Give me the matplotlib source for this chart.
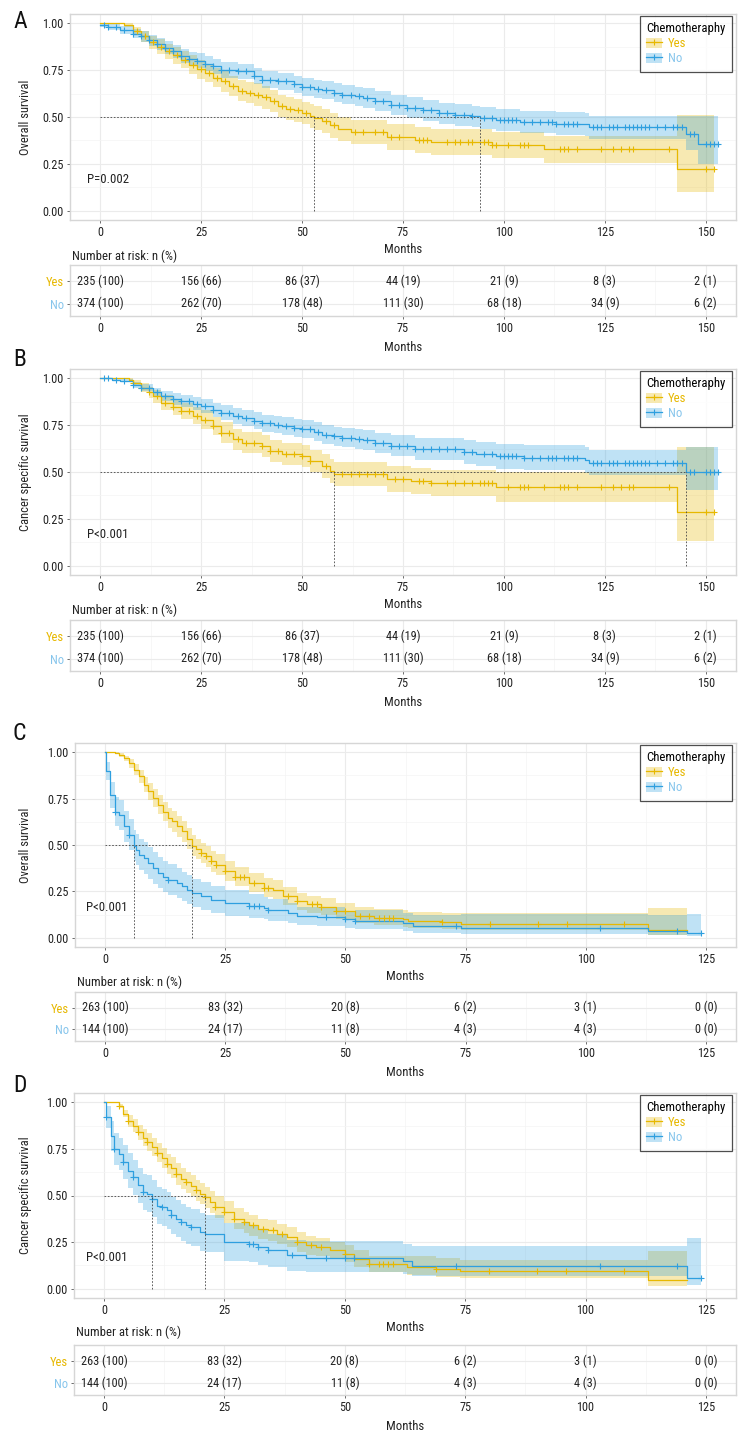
import numpy as np
import matplotlib
matplotlib.use("Agg")
import matplotlib.pyplot as plt
from matplotlib import font_manager as fm
from matplotlib.patches import Patch
from matplotlib.lines import Line2D

_names = {f.name for f in fm.fontManager.ttflist}
FONT = 'DejaVu Sans'
for cand in ['Liberation Sans Narrow', 'Roboto Condensed', 'Open Sans Condensed', 'DejaVu Sans']:
    if cand in _names:
        FONT = cand
        break
plt.rcParams['font.family'] = [FONT, 'DejaVu Sans']

# ---------------- DATA ----------------
groups = ['Yes', 'No']
legend_title = 'Chemotheraphy'
panel_letters = ['A', 'B', 'C', 'D']
y_titles = ['Overall survival', 'Cancer specific survival', 'Overall survival', 'Cancer specific survival']
p_texts = ['P=0.002', 'P<0.001', 'P<0.001', 'P<0.001']

# Panel A (overall survival, cohort 1)
A_yes_t = [0,6,8,10,12,14,16,18,20,22,24,26,28,30,32,34,36,38,40,42,44,46,48,50,52,53,55,57,59,62,71,78,82,97,110,143]
A_yes_s = [1.00,0.99,0.96,0.93,0.90,0.875,0.85,0.83,0.805,0.78,0.755,0.735,0.71,0.69,0.665,0.64,0.63,0.62,0.605,0.585,0.56,0.545,0.535,0.52,0.505,0.495,0.478,0.455,0.435,0.42,0.395,0.377,0.366,0.35,0.327,0.221]
A_yes_lo = [1.00,0.98,0.94,0.90,0.865,0.835,0.81,0.785,0.76,0.73,0.705,0.685,0.66,0.635,0.61,0.585,0.575,0.56,0.545,0.525,0.50,0.485,0.475,0.46,0.44,0.43,0.413,0.39,0.37,0.355,0.325,0.307,0.296,0.28,0.257,0.10]
A_yes_hi = [1.00,1.00,0.98,0.96,0.935,0.915,0.89,0.875,0.85,0.83,0.805,0.785,0.76,0.745,0.72,0.695,0.685,0.68,0.665,0.645,0.62,0.605,0.595,0.58,0.57,0.56,0.543,0.52,0.50,0.485,0.465,0.447,0.436,0.42,0.397,0.51]
A_yes_end = 152
A_yes_cens = [9,11,13,15,17,19,21,23,25,27,29,31,33,35,37,39,41,43,45,47,49,51,56,58,63,65,68,70,72,74,79,80,81,86,88,89,91,92,95,96,97,98,101,104,105,106,114,115,116,118,124,127,129,131,132,141,150,152]

A_no_t = [0,2,5,8,10,12,14,16,18,20,22,24,26,28,30,34,38,40,44,48,50,53,55,58,60,63,65,68,72,76,80,84,88,92,94,98,104,113,120,121,145,148]
A_no_s = [0.99,0.98,0.965,0.945,0.93,0.91,0.89,0.87,0.85,0.825,0.81,0.80,0.785,0.77,0.752,0.743,0.72,0.70,0.69,0.675,0.66,0.65,0.642,0.63,0.62,0.61,0.60,0.585,0.565,0.55,0.535,0.52,0.51,0.503,0.496,0.483,0.473,0.465,0.46,0.446,0.407,0.354]
A_no_lo = [0.98,0.965,0.945,0.92,0.90,0.88,0.858,0.835,0.815,0.788,0.772,0.76,0.745,0.73,0.71,0.701,0.677,0.656,0.645,0.63,0.614,0.603,0.594,0.58,0.57,0.558,0.547,0.531,0.51,0.495,0.479,0.463,0.452,0.445,0.437,0.423,0.413,0.404,0.398,0.384,0.322,0.251]
A_no_hi = [1.00,0.995,0.985,0.97,0.96,0.94,0.922,0.905,0.885,0.862,0.848,0.84,0.825,0.81,0.794,0.785,0.763,0.744,0.735,0.72,0.706,0.697,0.69,0.68,0.67,0.662,0.653,0.639,0.62,0.605,0.591,0.577,0.568,0.561,0.555,0.543,0.533,0.526,0.522,0.508,0.508,0.508]
A_no_end = 153
A_no_cens = [1,2,4,6,8,10,12,14,16,18,20,22,24,26,28,30,32,34,36,38,40,42,44,46,48,50,52,54,56,58,60,62,64,66,68,70,72,74,76,78,80,82,84,86,88,90,92,95,97,99,100,101,102,103,105,107,109,111,112,113,115,116,117,118,122,123,124,126,127,128,130,131,132,133,134,135,136,138,140,142,143,144,146,147,150,151,152,153]

# Panel B (cancer specific survival, cohort 1)
B_yes_t = [0,7,8,10,12,13,15,18,20,23,25,28,30,33,35,40,42,45,50,52,55,57,58,71,77,82,98,143]
B_yes_s = [1.00,0.99,0.977,0.95,0.925,0.905,0.87,0.845,0.826,0.80,0.78,0.745,0.71,0.675,0.657,0.64,0.613,0.595,0.586,0.56,0.533,0.506,0.49,0.464,0.452,0.443,0.422,0.284]
B_yes_lo = [1.00,0.98,0.962,0.925,0.895,0.87,0.83,0.805,0.781,0.755,0.73,0.695,0.655,0.62,0.602,0.58,0.553,0.535,0.526,0.50,0.468,0.441,0.425,0.394,0.382,0.373,0.342,0.13]
B_yes_hi = [1.00,1.00,0.992,0.975,0.955,0.94,0.91,0.885,0.871,0.845,0.83,0.795,0.765,0.73,0.712,0.70,0.673,0.655,0.646,0.62,0.598,0.571,0.555,0.534,0.522,0.513,0.502,0.634]
B_yes_end = 152
B_yes_cens = [8,10,12,14,16,18,20,22,24,26,28,30,32,34,36,38,40,42,44,46,48,50,52,56,60,62,64,66,68,70,73,75,79,80,82,86,88,90,92,94,95,96,97,101,104,105,106,110,114,115,116,118,124,127,129,131,132,141,150,152]

B_no_t = [0,3,5,8,10,13,15,18,20,23,25,28,30,33,35,38,40,43,45,48,50,53,55,58,60,63,65,68,72,78,90,93,98,105,120,121,145]
B_no_s = [1.00,0.993,0.986,0.965,0.95,0.925,0.905,0.89,0.88,0.865,0.852,0.832,0.817,0.80,0.79,0.775,0.76,0.752,0.746,0.737,0.728,0.715,0.70,0.69,0.684,0.677,0.67,0.655,0.64,0.622,0.607,0.595,0.583,0.577,0.563,0.55,0.50]
B_no_lo = [1.00,0.988,0.978,0.95,0.93,0.90,0.877,0.86,0.848,0.83,0.815,0.793,0.777,0.758,0.747,0.731,0.715,0.706,0.699,0.689,0.679,0.665,0.65,0.639,0.632,0.624,0.616,0.60,0.584,0.564,0.545,0.531,0.517,0.51,0.495,0.482,0.403]
B_no_hi = [1.00,0.998,0.994,0.98,0.97,0.95,0.933,0.92,0.912,0.90,0.889,0.871,0.857,0.842,0.833,0.819,0.805,0.798,0.793,0.785,0.777,0.765,0.75,0.741,0.736,0.73,0.724,0.71,0.696,0.68,0.669,0.659,0.649,0.644,0.631,0.618,0.634]
B_no_end = 153
B_no_cens = A_no_cens

# Panel C (overall survival, cohort 2)
C_yes_t = [0,2,3,4,5,6,7,8,9,10,11,12,13,14,15,16,17,18,19,20,21,22,23,25,27,30,33,35,37,40,42,45,48,52,56,62,63,70,74,113]
C_yes_s = [1.00,0.995,0.985,0.967,0.94,0.905,0.87,0.824,0.789,0.753,0.717,0.68,0.645,0.627,0.60,0.573,0.535,0.497,0.478,0.457,0.44,0.412,0.394,0.358,0.33,0.296,0.27,0.26,0.224,0.197,0.18,0.167,0.143,0.117,0.104,0.099,0.09,0.084,0.072,0.041]
C_yes_lo = [1.00,0.99,0.975,0.952,0.915,0.875,0.835,0.784,0.744,0.705,0.667,0.628,0.591,0.572,0.545,0.517,0.479,0.441,0.422,0.401,0.384,0.357,0.339,0.304,0.277,0.244,0.22,0.21,0.176,0.151,0.135,0.122,0.10,0.077,0.066,0.057,0.05,0.045,0.04,0.013]
C_yes_hi = [1.00,1.00,0.995,0.982,0.965,0.935,0.905,0.864,0.834,0.801,0.767,0.732,0.699,0.682,0.655,0.629,0.591,0.553,0.534,0.513,0.496,0.467,0.449,0.412,0.383,0.348,0.32,0.31,0.272,0.243,0.225,0.212,0.186,0.165,0.155,0.147,0.14,0.135,0.132,0.161]
C_yes_end = 121
C_yes_cens = [20,21,22,23,25,27,28,29,31,33,34,38,40,43,44,45,48,50,53,55,57,58,59,60,70,80,90,96,108]

C_no_t = [0,0.3,1,2,3,4,5,6,6.5,7,8,9,10,11,12,13,15,16,17,18,20,22,25,30,33,34,38,40,44,50,52,62,64,74,113,121]
C_no_s = [1.00,0.90,0.77,0.68,0.663,0.60,0.556,0.497,0.475,0.448,0.43,0.403,0.376,0.35,0.33,0.313,0.296,0.278,0.26,0.242,0.224,0.206,0.185,0.17,0.161,0.149,0.134,0.116,0.113,0.099,0.09,0.077,0.063,0.05,0.036,0.027]
C_no_lo = [1.00,0.85,0.70,0.602,0.583,0.518,0.473,0.413,0.39,0.363,0.345,0.318,0.291,0.266,0.247,0.231,0.216,0.199,0.182,0.165,0.148,0.132,0.115,0.106,0.101,0.091,0.079,0.066,0.063,0.052,0.045,0.035,0.025,0.02,0.015,0.01]
C_no_hi = [1.00,0.95,0.84,0.758,0.743,0.682,0.639,0.581,0.56,0.533,0.515,0.488,0.461,0.434,0.413,0.395,0.376,0.357,0.338,0.319,0.30,0.28,0.255,0.234,0.221,0.207,0.189,0.166,0.163,0.146,0.15,0.135,0.125,0.127,0.125,0.13]
C_no_end = 124
C_no_cens = [2,5,13,30,31,32,34,46,50,52,73,103,119,124]

# Panel D (cancer specific survival, cohort 2)
D_yes_t = [0,3,4,5,6,7,8,9,10,11,12,13,14,15,16,17,18,19,20,21,22,23,25,27,29,30,32,34,36,38,40,42,44,47,50,52,55,63,69,74,113]
D_yes_s = [1.00,0.982,0.94,0.90,0.875,0.84,0.81,0.786,0.76,0.73,0.70,0.67,0.65,0.616,0.59,0.57,0.553,0.527,0.51,0.49,0.464,0.4375,0.41,0.375,0.357,0.34,0.32,0.3125,0.295,0.277,0.25,0.232,0.223,0.205,0.1875,0.16,0.134,0.116,0.104,0.093,0.048]
D_yes_lo = [1.00,0.972,0.92,0.87,0.84,0.80,0.765,0.738,0.71,0.678,0.646,0.615,0.594,0.559,0.533,0.512,0.495,0.469,0.452,0.432,0.406,0.3795,0.352,0.318,0.30,0.284,0.265,0.2575,0.241,0.224,0.198,0.182,0.173,0.157,0.1405,0.115,0.091,0.072,0.062,0.055,0.014]
D_yes_hi = [1.00,0.992,0.96,0.93,0.91,0.88,0.855,0.834,0.81,0.782,0.754,0.725,0.706,0.673,0.647,0.628,0.611,0.585,0.568,0.548,0.522,0.4955,0.468,0.432,0.414,0.396,0.375,0.3675,0.349,0.33,0.302,0.282,0.273,0.253,0.2345,0.205,0.177,0.178,0.165,0.155,0.20]
D_yes_end = 121
D_yes_cens = [3,5,7,9,11,13,15,17,19,21,23,25,27,29,31,33,35,37,40,43,45,50,55,57,58,59,60,69,80,90,96,108]

D_no_t = [0,0.3,1.5,2,3,4,5,6,7,8,9,10,11,12,13,14,15,16,17,18,20,21,25,30,32,34,38,42,62,64,121]
D_no_s = [1.00,0.92,0.82,0.75,0.723,0.68,0.634,0.598,0.554,0.518,0.509,0.482,0.446,0.4375,0.42,0.393,0.375,0.357,0.34,0.33,0.304,0.295,0.25,0.241,0.223,0.205,0.1786,0.166,0.146,0.121,0.059]
D_no_lo = [1.00,0.86,0.74,0.665,0.635,0.59,0.542,0.504,0.458,0.42,0.409,0.382,0.346,0.3375,0.32,0.293,0.275,0.257,0.24,0.23,0.204,0.195,0.15,0.141,0.128,0.115,0.0936,0.09,0.08,0.068,0.018]
D_no_hi = [1.00,0.98,0.90,0.835,0.811,0.77,0.726,0.692,0.65,0.616,0.609,0.582,0.546,0.5375,0.52,0.493,0.475,0.457,0.44,0.43,0.404,0.395,0.35,0.341,0.318,0.295,0.2636,0.255,0.24,0.227,0.27]
D_no_end = 124
D_no_cens = [0.5,2,4,6,8,10,12,14,16,18,30,31,32,34,39,46,50,52,73,103,119,124]

# medians (months)
medians = [(53, 94), (58, 145), (18, 6), (21, 10)]

# Number at risk tables
risk_times_12 = [0, 25, 50, 75, 100, 125, 150]
risk_times_34 = [0, 25, 50, 75, 100, 125]
risk_A_yes = ['235 (100)', '156 (66)', '86 (37)', '44 (19)', '21 (9)', '8 (3)', '2 (1)']
risk_A_no = ['374 (100)', '262 (70)', '178 (48)', '111 (30)', '68 (18)', '34 (9)', '6 (2)']
risk_C_yes = ['263 (100)', '83 (32)', '20 (8)', '6 (2)', '3 (1)', '0 (0)']
risk_C_no = ['144 (100)', '24 (17)', '11 (8)', '4 (3)', '4 (3)', '0 (0)']

# ---------------- STYLE ----------------
COL = {'Yes': '#E7B800', 'No': '#2E9FDF'}
LABCOL = {'Yes': '#E7B800', 'No': '#86C5EC'}
GRID_MAJ = '#EBEBEB'
GRID_MIN = '#F4F4F4'
SPINE = '#D6D6D6'
TXT = '#222222'

W, H = 756, 1440
fig = plt.figure(figsize=(W / 100, H / 100), dpi=100)


def px_axes(l, r, t, b):
    return fig.add_axes([l / W, 1 - b / H, (r - l) / W, (b - t) / H])


panels = [
    dict(curves={'Yes': (A_yes_t, A_yes_s, A_yes_lo, A_yes_hi, A_yes_end, A_yes_cens),
                 'No': (A_no_t, A_no_s, A_no_lo, A_no_hi, A_no_end, A_no_cens)},
         risk=(risk_times_12, risk_A_yes, risk_A_no), xmax=150,
         plot=(70, 736, 14, 220), table=(70, 736, 265, 316), letter_y=21, nar_y=256, p_x=-3.2),
    dict(curves={'Yes': (B_yes_t, B_yes_s, B_yes_lo, B_yes_hi, B_yes_end, B_yes_cens),
                 'No': (B_no_t, B_no_s, B_no_lo, B_no_hi, B_no_end, B_no_cens)},
         risk=(risk_times_12, risk_A_yes, risk_A_no), xmax=150,
         plot=(70, 736, 369, 575), table=(70, 736, 620, 671), letter_y=360, nar_y=610, p_x=-3.2),
    dict(curves={'Yes': (C_yes_t, C_yes_s, C_yes_lo, C_yes_hi, C_yes_end, C_yes_cens),
                 'No': (C_no_t, C_no_s, C_no_lo, C_no_hi, C_no_end, C_no_cens)},
         risk=(risk_times_34, risk_C_yes, risk_C_no), xmax=125,
         plot=(75, 736, 743, 947), table=(75, 736, 992, 1041), letter_y=733, nar_y=982, p_x=-4.0),
    dict(curves={'Yes': (D_yes_t, D_yes_s, D_yes_lo, D_yes_hi, D_yes_end, D_yes_cens),
                 'No': (D_no_t, D_no_s, D_no_lo, D_no_hi, D_no_end, D_no_cens)},
         risk=(risk_times_34, risk_C_yes, risk_C_no), xmax=125,
         plot=(74, 736, 1093, 1298), table=(74, 736, 1345, 1395), letter_y=1085, nar_y=1332, p_x=-3.8),
]

FS = 8.8


def style_axes(ax, xmax):
    step = 25
    ax.set_xlim(-0.05 * xmax, xmax * 1.05)
    major = np.arange(0, xmax + 1, step)
    minor = np.arange(step / 2, xmax * 1.05, step)
    ax.set_xticks(major)
    ax.set_xticks(minor, minor=True)
    ax.tick_params(axis='both', which='major', length=2.5, width=0.6, color='#555555',
                   labelsize=FS, labelcolor=TXT, pad=2)
    ax.tick_params(axis='both', which='minor', length=0)
    ax.grid(which='major', color=GRID_MAJ, lw=0.8, zorder=0)
    ax.grid(which='minor', color=GRID_MIN, lw=0.5, zorder=0)
    ax.set_axisbelow(True)
    for sp in ax.spines.values():
        sp.set_color(SPINE)
        sp.set_linewidth(1.0)


for i, P in enumerate(panels):
    l, r, t, b = P['plot']
    ax = px_axes(l, r, t, b)
    style_axes(ax, P['xmax'])
    ax.set_ylim(-0.05, 1.05)
    ax.set_yticks([0, 0.25, 0.5, 0.75, 1.0])
    ax.set_yticklabels(['0.00', '0.25', '0.50', '0.75', '1.00'])
    ax.set_yticks([0.125, 0.375, 0.625, 0.875], minor=True)

    for g in groups:
        tt, ss, lo, hi, end, cens = P['curves'][g]
        te = list(tt) + [end]
        loe = list(lo) + [lo[-1]]
        hie = list(hi) + [hi[-1]]
        ax.fill_between(te, loe, hie, step='post', color=COL[g], alpha=0.3, lw=0, zorder=2)
    for g in groups:
        tt, ss, lo, hi, end, cens = P['curves'][g]
        te = list(tt) + [end]
        se = list(ss) + [ss[-1]]
        ax.step(te, se, where='post', color=COL[g], lw=0.9, zorder=4)
        idx = np.searchsorted(np.array(tt, dtype=float), np.array(cens, dtype=float), side='right') - 1
        cy = np.array(ss)[idx]
        ax.plot(cens, cy, ls='none', marker='+', ms=4.5, mew=0.8, color=COL[g], zorder=5)

    # median lines
    m1, m2 = medians[i]
    mmax = max(m1, m2)
    ax.plot([0, mmax], [0.5, 0.5], color='#444444', lw=0.6, ls=(0, (2, 2)), zorder=6)
    for m in (m1, m2):
        ax.plot([m, m], [0, 0.5], color='#444444', lw=0.6, ls=(0, (2, 2)), zorder=6)

    ax.text(P['p_x'], 0.165, p_texts[i], ha='left', va='center', fontsize=9.2, color=TXT)
    ax.set_xlabel('Months', fontsize=9.2, color=TXT, labelpad=2.5)
    ax.set_ylabel(y_titles[i], fontsize=9.0, color=TXT)
    ax.yaxis.set_label_coords((32 - l) / (r - l), 0.5)

    handles = [(Patch(facecolor=COL[g], alpha=0.3, edgecolor='none'),
                Line2D([], [], color=COL[g], lw=0.9, marker='+', ms=5, mew=0.8)) for g in groups]
    leg = ax.legend(handles, groups, title=legend_title, loc='upper right',
                    bbox_to_anchor=(1 - 4 / (r - l), 1 - 2 / (b - t)), borderaxespad=0,
                    fontsize=9.2, title_fontsize=9.2, frameon=True, fancybox=False,
                    edgecolor='#222222', handlelength=1.2, handleheight=0.9, labelspacing=0.15,
                    borderpad=0.5, handletextpad=0.5)
    leg.get_frame().set_linewidth(0.9)
    leg._legend_box.align = 'left'
    for txt, g in zip(leg.get_texts(), groups):
        txt.set_color(LABCOL[g])

    fig.text(13 / W, 1 - P['letter_y'] / H, panel_letters[i], fontsize=17, ha='left', va='center', color='#111111')

    # risk table
    tl, tr, tt_, tb = P['table']
    axt = px_axes(tl, tr, tt_, tb)
    style_axes(axt, P['xmax'])
    axt.set_ylim(0.45, 2.72)
    axt.set_yticks([2, 1])
    axt.set_yticklabels(groups)
    for lab, g in zip(axt.get_yticklabels(), groups):
        lab.set_color(LABCOL[g])
        lab.set_fontsize(9.0)
    times, ry, rn = P['risk']
    for x, a, bb in zip(times, ry, rn):
        axt.text(x, 2, a, ha='center', va='center', fontsize=8.8, color=TXT, zorder=5)
        axt.text(x, 1, bb, ha='center', va='center', fontsize=8.8, color=TXT, zorder=5)
    axt.set_xlabel('Months', fontsize=9.2, color=TXT, labelpad=4)
    fig.text(tl / W + 2 / W, 1 - P['nar_y'] / H, 'Number at risk: n (%)', fontsize=9.2,
             ha='left', va='center', color=TXT)

fig.savefig('out.png', dpi=100)
